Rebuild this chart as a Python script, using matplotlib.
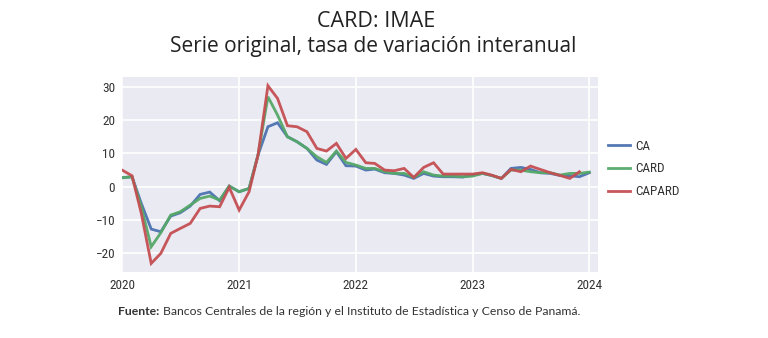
import matplotlib
matplotlib.use("Agg")
import matplotlib.pyplot as plt
import pandas as pd

# ---- data ----
dates = pd.date_range("2020-01-01", "2024-01-01", freq="MS")
ca = [2.7, 3.0, -5.0, -12.7, -13.5, -8.8, -7.8, -5.8, -2.3, -1.6, -4.2, 0.2,
      -1.5, -0.5, 9.5, 18.0, 19.2, 15.0, 13.5, 11.5, 8.0, 6.7, 10.5, 6.3,
      6.2, 5.0, 5.3, 4.2, 4.0, 3.5, 2.5, 4.0, 3.2, 3.0, 3.0, 2.9,
      3.5, 4.0, 3.4, 2.5, 5.5, 5.8, 5.2, 4.2, 4.0, 3.4, 3.3, 3.0, 4.2]
card = [2.7, 3.0, -6.0, -18.0, -13.8, -8.5, -7.5, -5.5, -3.5, -2.8, -4.0, 0.2,
        -1.5, -0.5, 9.5, 27.0, 21.5, 15.0, 13.5, 11.5, 9.0, 7.3, 10.7, 7.3,
        6.5, 5.5, 5.5, 4.5, 4.0, 4.0, 2.8, 4.5, 3.5, 3.2, 3.2, 3.0,
        3.2, 4.0, 3.4, 2.5, 5.0, 5.0, 4.5, 4.2, 4.2, 3.5, 4.0, 4.0, 4.4]
capard = [5.0, 3.3, -8.0, -23.0, -20.0, -14.0, -12.5, -11.0, -6.5, -5.8, -6.0, -0.2,
          -7.0, -1.5, 9.5, 30.3, 26.5, 18.3, 18.0, 16.5, 11.5, 10.7, 13.0, 8.5,
          11.2, 7.2, 7.0, 5.0, 4.8, 5.5, 2.8, 5.8, 7.2, 3.8, 3.8, 3.8,
          3.8, 4.2, 3.5, 2.5, 5.2, 4.5, 6.2, 5.2, 4.2, 3.4, 2.5, 4.5]
series_names = ["CA", "CARD", "CAPARD"]
yticks = [-20, -10, 0, 10, 20, 30]
xtick_years = [2020, 2021, 2022, 2023, 2024]

colors = ["#4C72B0", "#55A868", "#C44E52"]

fig = plt.figure(figsize=(7.68, 3.38), dpi=100)
fig.patch.set_facecolor("white")
ax = fig.add_axes([0.159, 0.195, 0.62, 0.577])
ax.set_facecolor("#EAEAF2")

tick_font = ["Roboto Condensed", "Liberation Sans Narrow", "Lato", "DejaVu Sans"]

for vals, c, name in zip([ca, card, capard], colors, series_names):
    ax.plot(dates[:len(vals)], vals, color=c, lw=2.0, label=name, alpha=0.95,
            solid_joinstyle="miter")

ax.set_ylim(-25.6, 32.9)
ax.set_xlim(pd.Timestamp("2020-01-01"), pd.Timestamp("2024-01-29"))
ax.set_yticks(yticks)
ax.set_yticklabels([("\u2212%d" % abs(v)) if v < 0 else str(v) for v in yticks],
                   family=tick_font, fontsize=9.5, color="#333333")
xt = [pd.Timestamp(f"{y}-01-01") for y in xtick_years]
ax.set_xticks(xt)
ax.set_xticklabels([str(y) for y in xtick_years], family=tick_font, fontsize=9.5,
                   color="#333333")
ax.grid(True, color="white", lw=1.2)
ax.set_axisbelow(True)
for s in ax.spines.values():
    s.set_visible(False)
ax.tick_params(length=0, pad=5)

leg = fig.legend(loc="center left", bbox_to_anchor=(0.776, 0.5), frameon=False,
                 handlelength=1.7, handletextpad=0.35, labelspacing=0.75,
                 prop={"family": tick_font, "size": 9.5})
for t in leg.get_texts():
    t.set_color("#333333")

fig.text(0.490, 0.935, "CARD: IMAE", ha="center", va="center",
         family="Open Sans", fontsize=15.5, color="#222222")
fig.text(0.486, 0.862, "Serie original, tasa de variación interanual", ha="center",
         va="center", family="Open Sans", fontsize=15, color="#222222")

t1 = fig.text(0.153, 0.077, "Fuente:", ha="left", va="center", family="Lato",
              fontweight="bold", fontsize=8.8, color="#333333")
fig.canvas.draw()
bb = t1.get_window_extent(renderer=fig.canvas.get_renderer())
x2 = (bb.x1 + 4) / fig.bbox.width
fig.text(x2, 0.077, "Bancos Centrales de la región y el Instituto de Estadística y Censo de Panamá.",
         ha="left", va="center", family="Lato", fontsize=8.8, color="#333333")

fig.savefig("out.png", dpi=100, facecolor="white")
